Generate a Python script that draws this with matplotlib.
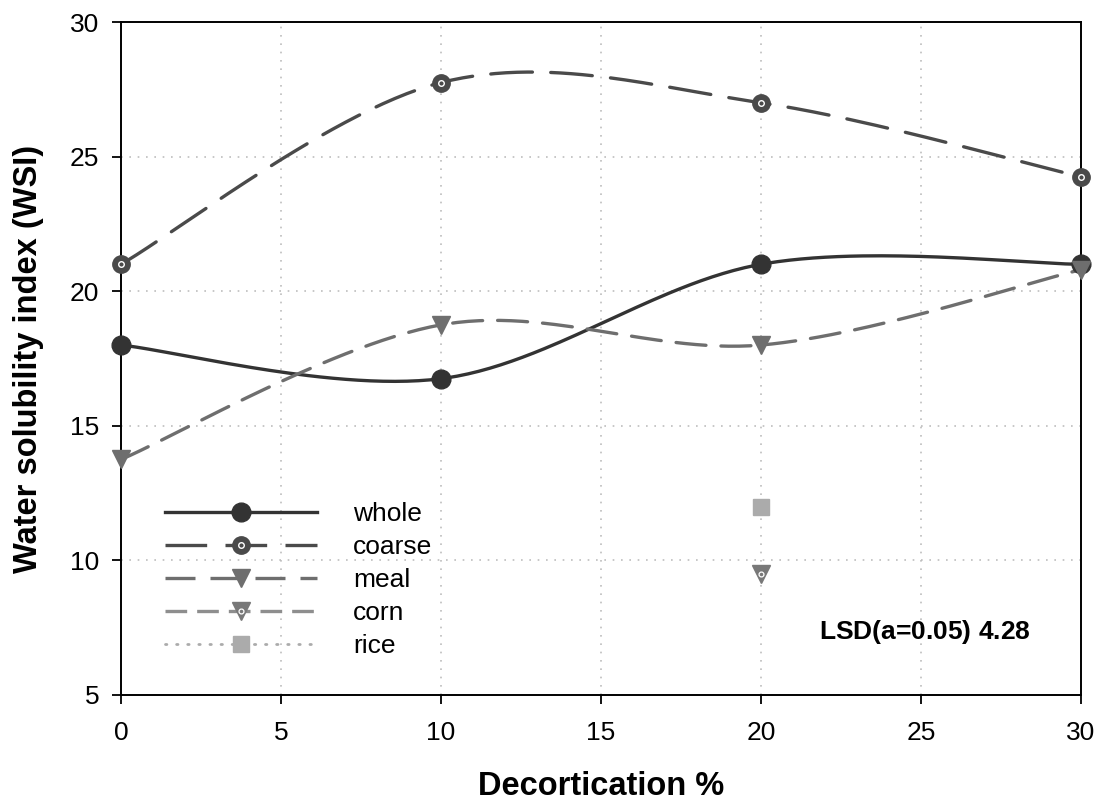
import numpy as np
import matplotlib.pyplot as plt
from matplotlib.legend_handler import HandlerTuple

plt.rcParams['font.family'] = ['Liberation Sans', 'DejaVu Sans']
plt.rcParams['mathtext.fontset'] = 'custom'
plt.rcParams['mathtext.rm'] = 'Liberation Serif'

decort = [0, 10, 20, 30]
whole = [18.0, 16.75, 21.0, 21.0]
coarse = [21.0, 27.75, 27.0, 24.25]
meal = [13.75, 18.75, 18.0, 20.8]
corn_x = [20]
corn = [9.5]
rice_x = [20]
rice = [12.0]


def smooth(xs, ys, n=60):
    # excel-like smoothed line: bezier segments with catmull-rom control points
    p = np.column_stack([xs, ys]).astype(float)
    pp = np.vstack([p[0], p, p[-1]])
    out = []
    t = np.linspace(0, 1, n)[:, None]
    for i in range(len(p) - 1):
        p0, p3 = pp[i + 1], pp[i + 2]
        c1 = p0 + (pp[i + 2] - pp[i]) / 6
        c2 = p3 - (pp[i + 3] - pp[i + 1]) / 6
        seg = (1 - t) ** 3 * p0 + 3 * (1 - t) ** 2 * t * c1 + 3 * (1 - t) * t ** 2 * c2 + t ** 3 * p3
        out.append(seg)
    out = np.vstack(out)
    return out[:, 0], out[:, 1]


fig = plt.figure(figsize=(11.03, 8.07), dpi=100)
ax = fig.add_axes([121 / 1103, 1 - 695 / 807, 960 / 1103, 673 / 807])

c_whole = '#333333'
c_coarse = '#4a4a4a'
c_meal = '#6e6e6e'
c_corn = '#8e8e8e'
c_cornm = '#787878'
c_rice = '#ababab'

lw = 2.4

sx, sy = smooth(decort, whole)
ax.plot(sx, sy, color=c_whole, lw=lw, solid_capstyle='round', zorder=3)
ax.plot(decort, whole, 'o', color=c_whole, ms=13.5, zorder=5, clip_on=False)

sx, sy = smooth(decort, coarse)
ax.plot(sx, sy, color=c_coarse, lw=lw, ls=(0, (12.5, 5.5)), dash_capstyle='round', zorder=3)
ax.plot(decort, coarse, 'o', color=c_coarse, ms=12.5, zorder=5, clip_on=False)
ax.plot(decort, coarse, 'o', mfc=c_coarse, mec='white', ms=4, mew=1.0, zorder=6, clip_on=False)

sx, sy = smooth(decort, meal)
ax.plot(sx, sy, color=c_meal, lw=lw, ls=(0, (9, 4.5)), dash_capstyle='round', zorder=3)
ax.plot(decort, meal, 'v', color=c_meal, ms=13, zorder=5, clip_on=False)

ax.plot(corn_x, corn, 'v', color=c_cornm, ms=13, zorder=5)
ax.plot(corn_x, corn, 'o', mfc=c_cornm, mec='white', ms=3.5, mew=0.9, zorder=6)

ax.plot(rice_x, rice, 's', color=c_rice, ms=12, zorder=5)

# legend proxies
h_whole = ax.plot([], [], color=c_whole, lw=lw, marker='o', ms=13.5)[0]
h_coarse = (ax.plot([], [], color=c_coarse, lw=lw, ls=(0, (12.5, 5.5)), marker='o', ms=12.5)[0],
            ax.plot([], [], ls='none', marker='o', mfc=c_coarse, mec='white', ms=4, mew=1.0)[0])
h_meal = ax.plot([], [], color=c_meal, lw=lw, ls=(0, (9, 4.5)), marker='v', ms=13)[0]
h_corn = (ax.plot([], [], color=c_corn, lw=lw, ls=(0, (6.5, 3)), marker='v', mfc=c_cornm, mec=c_cornm, ms=13)[0],
          ax.plot([], [], ls='none', marker='o', mfc=c_cornm, mec='white', ms=3.5, mew=0.9)[0])
h_rice = ax.plot([], [], color=c_rice, lw=2, ls=(0, (0.5, 3.5)), dash_capstyle='round',
                 marker='s', ms=12)[0]

ax.legend([h_whole, h_coarse, h_meal, h_corn, h_rice],
          ['whole', 'coarse', 'meal', 'corn', 'rice'],
          handler_map={tuple: HandlerTuple(ndivide=1, pad=0)},
          loc='upper left', bbox_to_anchor=(0.046, 0.287), frameon=False,
          fontsize=19, handlelength=5.76, handletextpad=1.36, labelspacing=0.34,
          borderpad=0, borderaxespad=0, numpoints=1)

ax.text(0.8375, 0.094, r'LSD($\mathregular{a}$=0.05) 4.28', transform=ax.transAxes,
        ha='center', va='center', fontsize=19, fontweight='bold')

ax.set_xlim(0, 30)
ax.set_ylim(5, 30)
ax.set_xticks(range(0, 31, 5))
ax.set_yticks(range(5, 31, 5))
ax.grid(True, color='#bdbdbd', ls=(0, (1, 4)), lw=1.2)
ax.tick_params(direction='out', length=6.5, width=1.3, labelsize=19)
ax.tick_params(axis='x', pad=12)
ax.tick_params(axis='y', pad=9)
for s in ax.spines.values():
    s.set_linewidth(1.4)

ax.set_xlabel('Decortication %', fontsize=23.5, fontweight='bold', labelpad=19)
ax.set_ylabel('Water solubility index (WSI)', fontsize=23.5, fontweight='bold', labelpad=18.5)

fig.savefig('out.png', dpi=100)
